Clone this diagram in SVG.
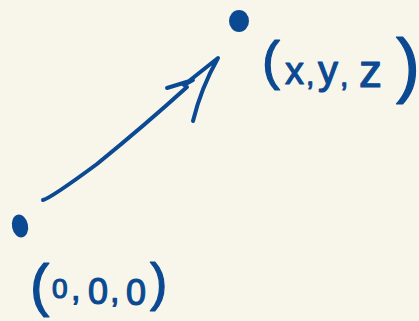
<svg xmlns="http://www.w3.org/2000/svg" width="419" height="321" viewBox="0 0 419 321">
<style>
.ink{fill:none;stroke:#0b4a92;stroke-width:4;stroke-linecap:round;stroke-linejoin:round}
.dot{fill:#0b4a92}
.lbl{font-family:"Liberation Sans",Arial,sans-serif;fill:#0b4a92;stroke:#0b4a92;stroke-width:1.2;stroke-linejoin:round}
</style>
<rect width="419" height="321" fill="#f8f5ea"/>
<g id="origin">
<ellipse class="dot" cx="20" cy="226" rx="8" ry="11.5" transform="rotate(-12 20 226)"/>
<text class="lbl"><tspan x="30" y="305" font-size="58">(</tspan><tspan x="52" y="298" font-size="28">0</tspan><tspan x="71" y="300" font-size="34">,</tspan><tspan x="88" y="304" font-size="36">0</tspan><tspan x="110" y="302" font-size="34">,</tspan><tspan x="126" y="305" font-size="36">0</tspan><tspan x="150" y="300" font-size="52">)</tspan></text>
</g>
<g id="point">
<ellipse class="dot" cx="239" cy="21" rx="10" ry="11"/>
<text class="lbl"><tspan x="262" y="79" font-size="54">(</tspan><tspan x="285" y="84" font-size="38">x</tspan><tspan x="306" y="85" font-size="30">,</tspan><tspan x="318" y="84" font-size="40">y</tspan><tspan x="340" y="86" font-size="30">,</tspan><tspan x="359" y="87" font-size="46">z</tspan><tspan x="396" y="89" font-size="72">)</tspan></text>
</g>
<g id="connectors">
<path class="ink" d="M43,200 Q51,198 97,164 Q145,125 187,87"/>
<path class="ink" d="M167,88 L193,80 L184,85 L218,58 Q201,88 193,121"/>
</g>
</svg>
